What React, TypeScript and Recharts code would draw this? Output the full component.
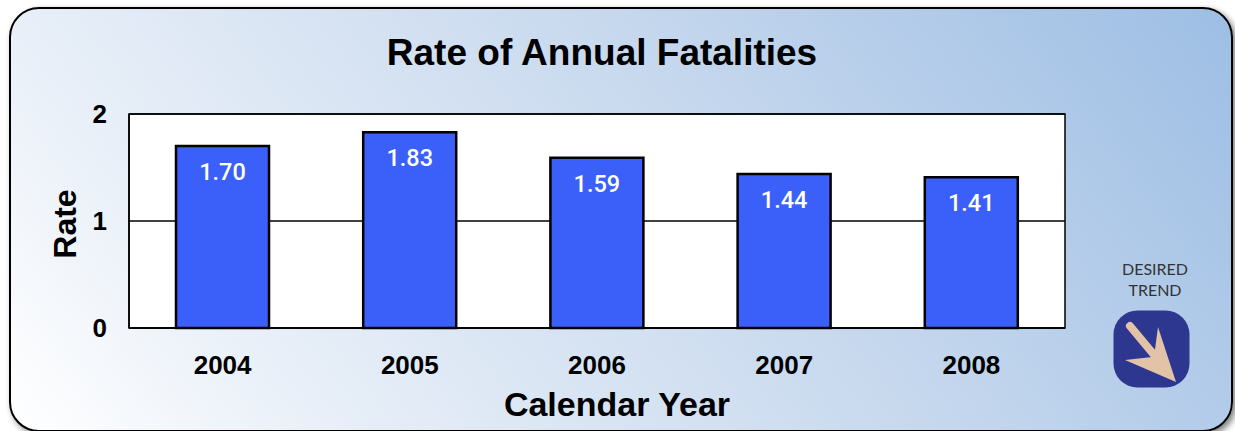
import React from "react";
import { ComposedChart, Bar, XAxis, YAxis, CartesianGrid, LabelList, ReferenceArea } from "recharts";

const years = ["2004", "2005", "2006", "2007", "2008"];
const rates = [1.7, 1.83, 1.59, 1.44, 1.41];
const yTicks = [0, 1, 2];
const rows = years.map((year, i) => ({ year, rate: rates[i] }));
const W = 1235;
const H = 431;
const FONT = "'Liberation Sans', Arial, sans-serif";
const NUM = "Roboto, sans-serif";

export default function App() {
  return (
    <div style={{ position: "absolute", left: 0, top: 0, width: W, height: H, overflow: "hidden", background: "#fff" }}>
      <div
        style={{
          position: "absolute",
          left: 9,
          top: 7,
          width: 1224,
          height: 425,
          boxSizing: "border-box",
          border: "2px solid #000",
          borderRadius: 30,
          backgroundImage: "linear-gradient(52deg, #ffffff 0%, #e8eff8 21%, #c8d9ee 58%, #9dbee4 100%)",
          boxShadow: "3px 3px 6px rgba(0,0,0,0.5)",
        }}
      />
      <ComposedChart
        width={W}
        height={H}
        data={rows}
        margin={{ top: 114, right: 170, bottom: 0, left: 0 }}
        style={{ position: "absolute", left: 0, top: 0 }}
      >
        <text x={602} y={65} textAnchor="middle" fontFamily={FONT} fontWeight={700} fontSize={37} fill="#000">
          Rate of Annual Fatalities
        </text>
        <CartesianGrid vertical={false} fill="#fff" fillOpacity={1} stroke="#000" strokeWidth={1.5} />
        <ReferenceArea y1={0} y2={2} fill="none" stroke="#000" strokeWidth={1.5} />
        <XAxis
          dataKey="year"
          height={103}
          tickLine={false}
          axisLine={{ stroke: "#000", strokeWidth: 1.5 }}
          tick={{ fontFamily: FONT, fontWeight: 700, fontSize: 26, fill: "#000" }}
          tickMargin={22}
          label={{ value: "Calendar Year", position: "insideBottom", offset: 15, dx: 20, fontFamily: FONT, fontWeight: 700, fontSize: 34, fill: "#000" }}
        />
        <YAxis
          domain={[0, 2]}
          ticks={yTicks}
          width={129}
          tickLine={false}
          axisLine={{ stroke: "#000", strokeWidth: 1.5 }}
          tick={{ fontFamily: FONT, fontWeight: 700, fontSize: 26, fill: "#000" }}
          tickMargin={16}
          label={{ value: "Rate", angle: -90, position: "insideLeft", offset: 65, textAnchor: "middle", dy: 3, fontFamily: FONT, fontWeight: 700, fontSize: 32, fill: "#000" }}
        />
        <Bar dataKey="rate" barSize={93} fill="#3b60f9" stroke="#000" strokeWidth={2.5} isAnimationActive={false}>
          <LabelList
            dataKey="rate"
            position="insideTop"
            offset={17}
            formatter={(v: number) => v.toFixed(2)}
            style={{ fontFamily: NUM, fontWeight: 500, fontSize: 23.5, fill: "#fff", stroke: "none" }}
          />
        </Bar>
      </ComposedChart>
      <div style={{ position: "absolute", left: 1105, top: 258, width: 100, textAlign: "center", fontFamily: "Lato, sans-serif", fontSize: 16, lineHeight: "21px", color: "#333" }}>
        DESIRED
        <br />
        TREND
      </div>
      <svg style={{ position: "absolute", left: 1113, top: 310 }} width={78} height={78}>
        <rect x={0.5} y={0.5} width={76} height={77} rx={24} fill="#2e3790" />
        <path d="M 15 17 L 41 47 L 45 17 L 63 72 L 12 50 L 39 47 Z" fill="#e3c3a8" />
        <line x1={17} y1={16} x2={42} y2={46} stroke="#e3c3a8" strokeWidth={8} strokeLinecap="round" />
      </svg>
    </div>
  );
}
